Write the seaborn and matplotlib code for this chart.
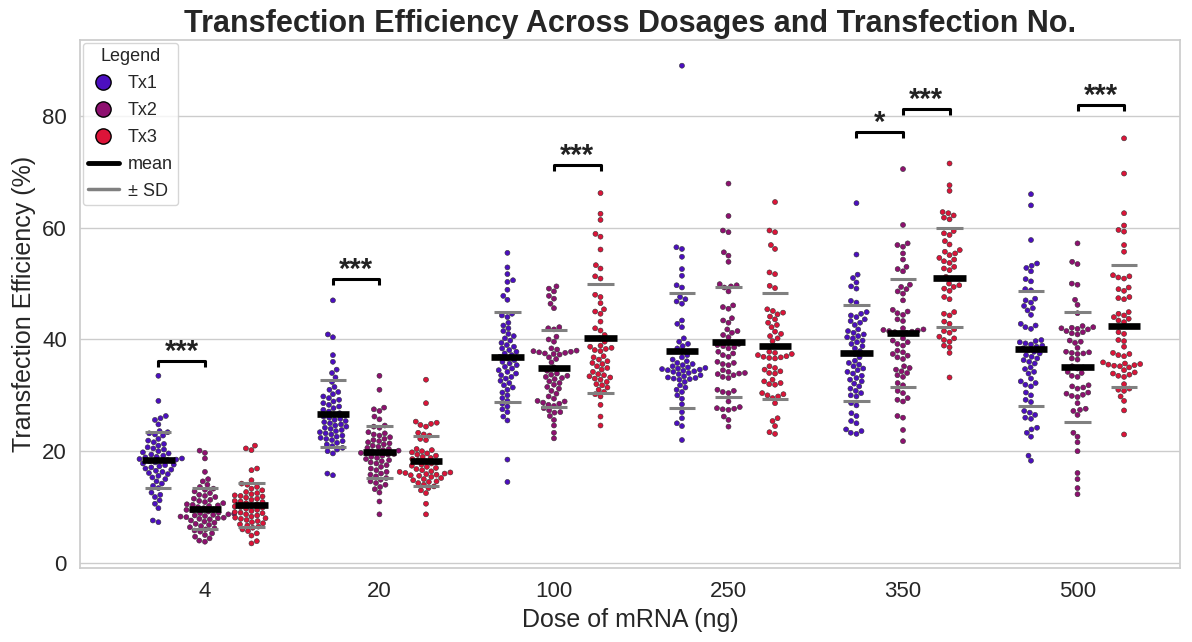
import matplotlib
matplotlib.use("Agg")
import numpy as np
import pandas as pd
import seaborn as sns
import matplotlib.pyplot as plt
from matplotlib.lines import Line2D
import warnings
warnings.filterwarnings("ignore")

doses = ["4", "20", "100", "250", "350", "500"]
treatments = ["Tx1", "Tx2", "Tx3"]
tx_colors = ["#4C0FC0", "#8E1070", "#DC1439"]

# ---- values (Transfection efficiency, %) ----
tx1_d4 = [33.5, 29.0, 26.3, 25.9, 25.6, 24.8, 23.6, 23.4, 23.2, 23.0, 22.8, 22.2, 21.9, 21.6, 21.3,
          21.0, 20.7, 20.5, 20.3, 20.0, 19.8, 19.6, 19.4, 19.2, 19.0, 18.9, 18.7, 18.6, 18.5, 18.4,
          18.3, 18.2, 18.0, 17.8, 17.6, 17.5, 17.3, 17.1, 16.9, 16.7, 16.5, 16.3, 16.1, 15.9, 15.6,
          15.3, 15.0, 14.6, 14.2, 13.8, 13.4, 12.6, 12.2, 11.8, 11.2, 10.6, 9.8, 7.6, 7.3]
tx2_d4 = [20.1, 19.7, 18.7, 16.3, 15.0, 14.6, 14.0, 13.6, 13.3, 13.1, 12.8, 12.5, 12.2, 12.0, 11.8,
          11.5, 11.3, 11.1, 10.9, 10.7, 10.5, 10.3, 10.2, 10.0, 9.8, 9.6, 9.4, 9.2, 9.0, 8.9, 8.7,
          8.6, 8.5, 8.4, 8.3, 8.1, 8.0, 7.9, 7.8, 7.6, 7.4, 7.2, 7.0, 6.8, 6.6, 6.4, 6.2, 6.0, 5.8,
          5.6, 5.3, 5.0, 4.7, 4.4, 4.0, 3.8, 8.2, 8.8, 9.5, 10.4]
tx3_d4 = [21.0, 20.5, 20.2, 16.9, 16.6, 14.8, 14.2, 14.0, 13.6, 13.3, 13.0, 12.7, 12.5, 12.3, 12.1,
          11.9, 11.7, 11.5, 11.3, 11.1, 10.9, 10.7, 10.5, 10.3, 10.1, 9.9, 9.7, 9.5, 9.3, 9.1, 8.9,
          8.7, 8.5, 8.3, 8.1, 7.9, 7.7, 7.5, 7.3, 7.1, 6.9, 6.7, 6.5, 6.3, 6.0, 5.7, 5.3, 4.9, 3.9,
          3.5, 10.0, 11.0, 12.0, 9.0, 8.0]

tx1_d20 = [47.0, 40.9, 40.4, 37.2, 36.0, 34.6, 34.0, 33.2, 32.4, 31.5, 31.0, 30.6, 30.2, 29.8, 29.5,
           29.2, 28.9, 28.6, 28.3, 28.0, 27.7, 27.4, 27.1, 26.8, 26.6, 26.4, 26.2, 26.0, 25.8, 25.6,
           25.4, 25.2, 25.0, 24.8, 24.6, 24.4, 24.2, 24.0, 23.8, 23.6, 23.4, 23.2, 23.0, 22.8, 22.6,
           22.4, 22.2, 22.0, 21.8, 21.5, 21.2, 20.9, 20.6, 20.3, 20.0, 19.6, 16.0, 15.7]
tx2_d20 = [33.5, 31.0, 27.8, 27.5, 27.2, 26.2, 25.7, 24.6, 24.4, 24.2, 23.4, 23.2, 23.0, 22.8, 22.5,
           22.2, 22.0, 21.8, 21.6, 21.4, 21.2, 21.0, 20.8, 20.6, 20.4, 20.2, 20.0, 19.8, 19.6, 19.4,
           19.2, 19.0, 18.8, 18.6, 18.4, 18.2, 18.0, 17.8, 17.5, 17.2, 16.9, 16.6, 16.3, 16.0, 15.8,
           15.5, 15.2, 14.9, 14.6, 14.3, 14.0, 13.6, 13.2, 12.6, 11.0, 8.7, 19.5, 19.7, 20.1]
tx3_d20 = [32.8, 28.6, 25.3, 25.1, 24.9, 24.7, 24.4, 23.3, 23.0, 22.8, 22.2, 22.0, 20.4, 20.2, 20.0,
           19.8, 19.6, 19.4, 19.2, 19.0, 18.8, 18.6, 18.4, 18.2, 18.0, 17.8, 17.6, 17.4, 17.2, 17.0,
           16.8, 16.6, 16.4, 16.2, 16.0, 15.8, 15.6, 15.4, 15.2, 15.0, 14.8, 14.6, 14.3, 14.0, 13.7,
           13.4, 13.0, 12.5, 10.6, 8.7, 16.1, 16.3, 15.9, 15.7, 14.5]

tx1_d100 = [55.5, 52.9, 51.7, 50.6, 50.3, 48.9, 47.8, 47.1, 44.6, 44.3, 44.0, 43.0, 42.5, 42.0, 41.5,
            41.0, 40.6, 40.2, 39.8, 39.4, 39.0, 38.7, 38.4, 38.1, 37.8, 37.5, 37.2, 36.9, 36.6, 36.3,
            36.0, 35.7, 35.4, 35.1, 34.8, 34.5, 34.2, 33.9, 33.6, 33.3, 33.0, 32.6, 32.2, 31.8, 31.4,
            31.0, 30.5, 30.0, 29.5, 29.0, 28.5, 28.0, 27.5, 27.0, 26.2, 25.5, 18.5, 14.5]
tx2_d100 = [49.5, 49.1, 48.6, 47.8, 47.3, 46.4, 45.6, 42.2, 42.0, 41.8, 40.5, 40.0, 39.6, 38.4, 38.2,
            38.0, 37.9, 37.8, 37.7, 37.6, 37.5, 37.4, 37.3, 36.8, 36.5, 35.9, 35.0, 34.4, 33.9, 33.7,
            33.5, 33.3, 33.1, 32.9, 32.5, 32.2, 31.9, 31.5, 31.2, 30.8, 30.3, 29.8, 29.4, 29.0, 28.7,
            28.5, 28.3, 28.1, 27.7, 27.3, 26.9, 26.3, 25.6, 24.6, 23.3, 22.3, 27.0, 28.9]
tx3_d100 = [66.2, 62.5, 61.4, 58.9, 58.4, 56.1, 53.3, 52.7, 51.3, 50.9, 48.0, 47.6, 46.5, 45.4, 45.0,
            44.6, 43.2, 42.0, 41.6, 40.8, 40.2, 39.6, 38.9, 38.7, 38.5, 38.3, 38.1, 37.9, 36.4, 36.1,
            35.8, 35.6, 35.2, 34.9, 34.6, 33.8, 33.6, 33.4, 33.2, 33.0, 32.8, 31.8, 31.4, 30.2, 29.8,
            28.3, 26.2, 24.6, 37.0, 36.8, 34.2, 32.4, 31.0, 30.6, 32.0]

tx1_d250 = [89.0, 56.5, 56.2, 54.8, 52.6, 51.4, 49.7, 49.3, 47.6, 47.2, 46.8, 46.4, 43.4, 42.8, 42.2,
            33.1, 32.9, 40.2, 39.6, 39.2, 38.8, 38.4, 37.8, 37.2, 36.8, 36.4, 36.1, 35.8, 35.6, 35.4,
            35.2, 35.0, 34.9, 34.8, 34.7, 34.6, 34.5, 34.4, 34.3, 34.2, 34.0, 33.8, 33.6, 33.4, 33.2,
            33.0, 32.8, 32.4, 31.8, 31.4, 31.0, 30.6, 30.0, 29.4, 28.4, 27.0, 25.9, 25.0, 24.5, 22.0]
tx2_d250 = [67.9, 62.1, 59.5, 59.2, 55.6, 55.0, 53.9, 49.9, 49.7, 49.5, 49.3, 48.6, 46.1, 45.8, 45.5,
            34.0, 33.8, 43.8, 43.4, 43.0, 41.8, 41.5, 41.2, 40.8, 40.4, 39.4, 39.2, 39.0, 38.8, 38.6,
            38.4, 37.8, 37.5, 37.2, 36.9, 36.0, 35.8, 35.6, 35.4, 34.5, 34.2, 33.9, 33.6, 33.3, 33.1,
            31.0, 30.8, 30.6, 30.4, 28.9, 27.9, 27.7, 27.6, 27.5, 27.4, 26.2, 25.6, 24.4]
tx3_d250 = [64.6, 59.5, 59.2, 56.9, 56.2, 52.0, 51.7, 49.6, 49.2, 45.4, 45.1, 44.8, 44.5, 44.1, 43.6,
            43.0, 42.6, 42.2, 41.4, 41.0, 40.6, 40.2, 39.7, 38.8, 37.8, 37.6, 37.4, 37.2, 37.0, 36.9,
            36.8, 36.7, 36.6, 35.2, 34.9, 34.6, 34.3, 34.0, 33.9, 32.8, 32.5, 32.2, 32.0, 31.9, 30.4,
            30.2, 30.0, 29.8, 29.5, 28.6, 25.9, 25.4, 24.5, 23.4, 23.1]

tx1_d350 = [64.4, 55.2, 51.6, 51.0, 50.2, 49.5, 49.1, 46.9, 46.6, 44.9, 44.6, 44.3, 44.0, 43.6,
            43.3, 43.0, 42.6, 41.8, 41.5, 41.2, 40.9, 40.6, 40.4, 40.2, 39.8, 39.5, 39.2, 38.8, 38.4,
            37.9, 37.4, 36.8, 36.2, 35.8, 35.5, 35.2, 34.8, 34.5, 34.2, 33.9, 33.5, 33.1, 32.8, 32.5,
            32.1, 31.6, 31.2, 30.8, 30.4, 29.8, 28.6, 28.2, 26.8, 26.3, 25.4, 25.0, 23.9, 23.6, 23.3,
            23.1, 30.0]
tx2_d350 = [70.5, 60.5, 57.2, 56.9, 56.6, 55.4, 54.3, 53.0, 52.6, 52.2, 49.8, 49.4, 49.0, 48.6, 48.2,
            47.0, 45.3, 45.0, 44.7, 44.4, 43.6, 43.3, 42.0, 41.8, 41.7, 41.6, 41.5, 41.4, 41.3, 41.2,
            41.1, 40.2, 39.8, 39.5, 39.2, 38.9, 38.0, 37.7, 37.4, 37.1, 36.8, 36.5, 35.2, 34.9, 34.6,
            34.3, 34.0, 33.6, 33.3, 32.2, 31.8, 30.8, 30.4, 29.5, 29.2, 28.9, 26.3, 26.0, 23.8, 21.8]
tx3_d350 = [71.5, 67.6, 66.6, 62.8, 62.6, 62.2, 61.8, 61.5, 59.4, 59.0, 58.7, 57.6, 57.0, 56.0, 55.7,
            55.4, 55.1, 54.6, 54.3, 54.0, 53.7, 53.0, 52.7, 52.4, 51.2, 50.9, 50.0, 49.7, 49.4, 49.1,
            48.7, 47.6, 47.2, 44.9, 44.6, 44.3, 43.2, 42.8, 41.8, 41.5, 41.2, 40.5, 40.2, 39.9, 39.6,
            38.9, 38.6, 37.6, 33.2]

tx1_d500 = [66.0, 64.0, 57.8, 53.6, 53.2, 52.8, 52.2, 50.8, 50.4, 49.0, 48.8, 47.3, 47.0, 46.6, 46.0,
            45.6, 45.2, 44.4, 42.8, 42.5, 42.2, 41.9, 39.9, 39.7, 39.5, 39.3, 39.1, 38.9, 38.7, 38.4,
            38.1, 37.8, 37.5, 37.2, 36.9, 36.6, 36.3, 36.0, 35.7, 35.0, 34.7, 34.2, 33.9, 32.5, 32.2,
            31.9, 31.6, 30.5, 29.2, 28.8, 27.2, 26.9, 26.0, 25.8, 24.2, 23.9, 23.3, 22.6, 19.2, 18.3,
            33.0, 30.0, 26.5]
tx2_d500 = [57.2, 53.9, 53.5, 50.0, 49.8, 47.1, 46.2, 44.7, 42.4, 42.2, 42.1, 42.0, 41.9, 41.8, 41.5,
            41.3, 41.1, 40.9, 39.8, 39.6, 39.4, 38.5, 37.8, 37.7, 37.6, 37.5, 37.4, 36.6, 36.4, 35.2,
            35.0, 34.8, 34.2, 34.0, 33.5, 33.3, 31.8, 31.6, 31.4, 31.2, 30.5, 30.3, 30.1, 29.9, 29.7,
            28.6, 27.6, 27.4, 27.2, 26.5, 23.3, 22.6, 21.6, 20.0, 16.1, 15.0, 13.4, 12.3]
tx3_d500 = [76.0, 69.7, 62.6, 60.4, 59.6, 59.3, 56.9, 55.7, 51.5, 51.3, 51.1, 50.9, 49.3, 49.0, 48.7,
            47.6, 47.4, 47.2, 44.9, 44.6, 44.3, 44.0, 43.7, 43.4, 43.1, 41.3, 41.0, 39.9, 39.7, 38.7,
            37.6, 37.4, 37.2, 37.0, 35.9, 35.7, 35.6, 35.5, 35.4, 35.3, 35.2, 34.1, 33.9, 33.7, 33.5,
            33.3, 31.2, 31.0, 30.8, 29.8, 27.3, 23.0, 35.0, 34.5, 32.0, 29.0]

group_values = {
    ("4", "Tx1"): tx1_d4, ("4", "Tx2"): tx2_d4, ("4", "Tx3"): tx3_d4,
    ("20", "Tx1"): tx1_d20, ("20", "Tx2"): tx2_d20, ("20", "Tx3"): tx3_d20,
    ("100", "Tx1"): tx1_d100, ("100", "Tx2"): tx2_d100, ("100", "Tx3"): tx3_d100,
    ("250", "Tx1"): tx1_d250, ("250", "Tx2"): tx2_d250, ("250", "Tx3"): tx3_d250,
    ("350", "Tx1"): tx1_d350, ("350", "Tx2"): tx2_d350, ("350", "Tx3"): tx3_d350,
    ("500", "Tx1"): tx1_d500, ("500", "Tx2"): tx2_d500, ("500", "Tx3"): tx3_d500,
}

# significance annotations
sig_dose = ["4", "20", "100", "350", "350", "500"]
sig_pair = [("Tx1", "Tx2"), ("Tx1", "Tx2"), ("Tx2", "Tx3"), ("Tx1", "Tx2"), ("Tx2", "Tx3"), ("Tx2", "Tx3")]
sig_height = [36.1, 50.8, 71.2, 77.1, 81.3, 82.0]
sig_label = ["***", "***", "***", "*", "***", "***"]

rows = []
for (d, t), vals in group_values.items():
    for v in vals:
        rows.append((d, t, v))
df = pd.DataFrame(rows, columns=["Dose", "Treatment", "Efficiency"])

sns.set_theme(style="whitegrid")
plt.rcParams["font.family"] = ["Liberation Sans", "DejaVu Sans"]

fig, ax = plt.subplots(figsize=(11.92, 6.42), dpi=100)
fig.subplots_adjust(left=0.0671, right=0.9899, top=0.9377, bottom=0.1153)

sns.swarmplot(data=df, x="Dose", y="Efficiency", hue="Treatment", order=doses,
              hue_order=treatments, palette=tx_colors, dodge=True, size=3.6,
              edgecolor="#333333", linewidth=0.4, ax=ax, legend=False, zorder=2)

dodge_w = 0.8 / len(treatments)

def xpos(dose, tx):
    return doses.index(dose) + (treatments.index(tx) - (len(treatments) - 1) / 2) * dodge_w

stats = df.groupby(["Dose", "Treatment"])["Efficiency"].agg(["mean", "std"])
for (d, t), r in stats.iterrows():
    x = xpos(d, t)
    ax.hlines(r["mean"], x - 0.093, x + 0.093, color="black", lw=4.8, zorder=5)
    ax.hlines([r["mean"] - r["std"], r["mean"] + r["std"]], x - 0.075, x + 0.075,
              color="gray", lw=2.2, zorder=4)

for d, (a, b), h, lab in zip(sig_dose, sig_pair, sig_height, sig_label):
    x1, x2 = xpos(d, a), xpos(d, b)
    ax.plot([x1, x1, x2, x2], [h - 1.1, h, h, h - 1.1], color="black", lw=2.2,
            solid_capstyle="butt", zorder=6)
    ax.text((x1 + x2) / 2, h + 0.2, lab, ha="center", va="baseline", fontsize=21,
            fontweight="bold", color="#222222")

ax.set_xlim(-0.716, 5.587)
ax.set_ylim(-0.9, 93.6)
ax.set_yticks([0, 20, 40, 60, 80])
ax.tick_params(labelsize=16)
ax.set_xlabel("Dose of mRNA (ng)", fontsize=18)
ax.set_ylabel("Transfection Efficiency (%)", fontsize=18)
ax.set_title("Transfection Efficiency Across Dosages and Transfection No.", fontsize=22,
             fontweight="bold")

handles = [Line2D([0], [0], marker="o", linestyle="None", markerfacecolor=c,
                  markeredgecolor="black", markersize=11, label=t)
           for t, c in zip(treatments, tx_colors)]
handles += [Line2D([0], [0], color="black", lw=3.5, label="mean"),
            Line2D([0], [0], color="gray", lw=2.5, label="± SD")]
ax.legend(handles=handles, title="Legend", loc="upper left", fontsize=13,
          title_fontsize=13, borderaxespad=0.15, borderpad=0.3, handlelength=1.7,
          handletextpad=0.5, labelspacing=0.55)

fig.savefig("out.png", dpi=100)
